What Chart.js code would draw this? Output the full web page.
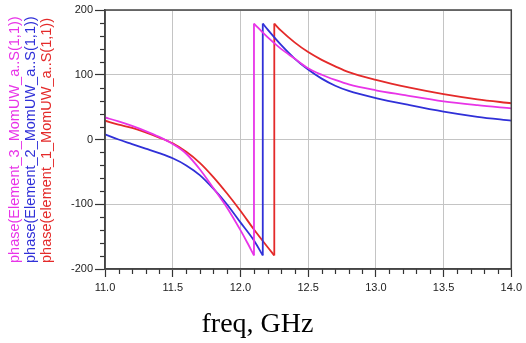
<!DOCTYPE html>
<html>
<head>
<meta charset="utf-8">
<script src="https://cdn.jsdelivr.net/npm/chart.js@4/dist/chart.umd.min.js"></script>
<style>
html,body{margin:0;padding:0;background:#fff;}
canvas{display:block;}
</style>
</head>
<body>
<canvas id="c" width="526" height="343"></canvas>
<script>
// Series names (legend)
const seriesNames = [
  'phase(Element_3_MomUW_a..S(1,1))',
  'phase(Element_2_MomUW_a..S(1,1))',
  'phase(element_1_MomUW_a..S(1,1))'
];
const seriesColors = ['#e834e8', '#3030d8', '#e42a2a'];

// Element_3 (magenta)
const freqE3  = [11.0, 11.1, 11.2, 11.3, 11.4, 11.5, 11.6, 11.7, 11.8, 11.9, 12.0, 12.05, 12.10,
                 12.10, 12.2, 12.3, 12.4, 12.5, 12.6, 12.7, 12.8, 13.0, 13.2, 13.5, 13.75, 14.0];
const phaseE3 = [34, 28, 21, 13, 4, -7, -22, -46, -75, -105, -140, -159, -179,
                 179, 158, 140, 125, 110, 100, 92, 85, 76, 69, 59, 53, 48];

// Element_2 (blue)
const freqE2  = [11.0, 11.1, 11.2, 11.3, 11.4, 11.5, 11.6, 11.7, 11.8, 11.9, 12.0, 12.1, 12.165,
                 12.165, 12.2, 12.3, 12.4, 12.5, 12.6, 12.7, 12.8, 13.0, 13.25, 13.5, 13.75, 14.0];
const phaseE2 = [8, 0, -7, -14, -21, -29, -40, -55, -76, -100, -128, -156, -179,
                 179, 170, 146, 125, 108, 94, 83, 75, 64, 53, 43, 35, 29];

// element_1 (red)
const freqE1  = [11.0, 11.1, 11.2, 11.3, 11.4, 11.5, 11.6, 11.7, 11.8, 11.9, 12.0, 12.1, 12.2, 12.25,
                 12.25, 12.3, 12.4, 12.5, 12.6, 12.7, 12.8, 13.0, 13.25, 13.5, 13.75, 14.0];
const phaseE1 = [29, 23, 18, 11, 3, -6, -19, -36, -58, -83, -110, -139, -166, -179,
                 179, 168, 150, 135, 123, 113, 104, 92, 80, 70, 62, 56];

// Axis ranges / ticks
const xMin = 11.0, xMax = 14.0, xMajor = 0.5, xMinor = 0.1;
const yMin = -200, yMax = 200, yMajor = 100, yMinor = 20;

// split a series at its phase wrap (repeated frequency) into lower branch, wrap line, upper branch
function branches(xs, ys, color){
  const k = xs.findIndex((x,i)=> i>0 && x === xs[i-1]);
  const p = xs.map((x,i)=>({x:x, y:ys[i]}));
  const base = {borderColor: color, borderWidth: 1.8, pointRadius: 0, fill: false, cubicInterpolationMode: 'monotone'};
  return [
    Object.assign({data: p.slice(0, k)}, base),
    Object.assign({data: p.slice(k-1, k+1)}, base, {cubicInterpolationMode: 'default', tension: 0}),
    Object.assign({data: p.slice(k)}, base)
  ];
}

const minorTicks = {
  id: 'minorTicks',
  afterDraw(chart){
    const ctx = chart.ctx, ca = chart.chartArea;
    const xs = chart.scales.x, ys = chart.scales.y;
    ctx.save();
    ctx.strokeStyle = '#333';
    ctx.lineWidth = 1.2;
    const nx = Math.round((xMax - xMin)/xMinor);
    for(let i=0;i<=nx;i++){
      if(i % Math.round(xMajor/xMinor) === 0) continue;
      const px = Math.round(xs.getPixelForValue(xMin + i*xMinor)) + 0.5;
      ctx.beginPath(); ctx.moveTo(px, ca.bottom); ctx.lineTo(px, ca.bottom + 5); ctx.stroke();
    }
    const ny = Math.round((yMax - yMin)/yMinor);
    for(let i=0;i<=ny;i++){
      if(i % Math.round(yMajor/yMinor) === 0) continue;
      const py = Math.round(ys.getPixelForValue(yMin + i*yMinor)) + 0.5;
      ctx.beginPath(); ctx.moveTo(ca.left - 5, py); ctx.lineTo(ca.left, py); ctx.stroke();
    }
    ctx.strokeStyle = '#444';
    ctx.lineWidth = 1.5;
    ctx.strokeRect(ca.left, ca.top, ca.right - ca.left, ca.bottom - ca.top);
    ctx.font = '14.5px "Liberation Sans", Arial, sans-serif';
    ctx.textAlign = 'left';
    ctx.textBaseline = 'alphabetic';
    const baseX = [19, 35, 51];
    seriesNames.forEach((n, i) => {
      ctx.save();
      ctx.translate(baseX[i], 263);
      ctx.rotate(-Math.PI/2);
      ctx.fillStyle = seriesColors[i];
      ctx.fillText(n, 0, 0);
      ctx.restore();
    });
    ctx.restore();
  }
};

new Chart(document.getElementById('c'), {
  type: 'line',
  data: {
    datasets: [].concat(
      branches(freqE3, phaseE3, seriesColors[0]),
      branches(freqE2, phaseE2, seriesColors[1]),
      branches(freqE1, phaseE1, seriesColors[2])
    )
  },
  options: {
    responsive: false,
    animation: false,
    layout: {padding: {left: 0, right: 11, top: 10, bottom: 0}},
    plugins: {
      legend: {display: false},
      tooltip: {enabled: false},
      title: {
        display: true, position: 'bottom', text: 'freq, GHz',
        color: '#000',
        font: {family: '"Liberation Serif", "Times New Roman", serif', size: 28, weight: 'normal'},
        padding: {top: 9, bottom: 1.4}
      }
    },
    scales: {
      x: {
        type: 'linear', min: xMin, max: xMax,
        afterFit: s => { s.height = 30; },
        ticks: {stepSize: xMajor, color: '#222', padding: 4, maxRotation: 0, autoSkip: false,
                font: {family: '"Liberation Sans", Arial, sans-serif', size: 11},
                callback: v => Number(v).toFixed(1)},
        grid: {color: '#c4c4c4', lineWidth: 1, tickColor: '#333', tickLength: 8, tickWidth: 1.2},
        border: {color: '#444', width: 1.5}
      },
      y: {
        type: 'linear', min: yMin, max: yMax,
        afterFit: s => { s.width = 105; },
        ticks: {stepSize: yMajor, color: '#222', padding: 2,
                font: {family: '"Liberation Sans", Arial, sans-serif', size: 11}},
        grid: {color: '#c4c4c4', lineWidth: 1, tickColor: '#333', tickLength: 10, tickWidth: 1.2},
        border: {color: '#444', width: 1.5}
      }
    }
  },
  plugins: [minorTicks]
});
</script>
</body>
</html>
